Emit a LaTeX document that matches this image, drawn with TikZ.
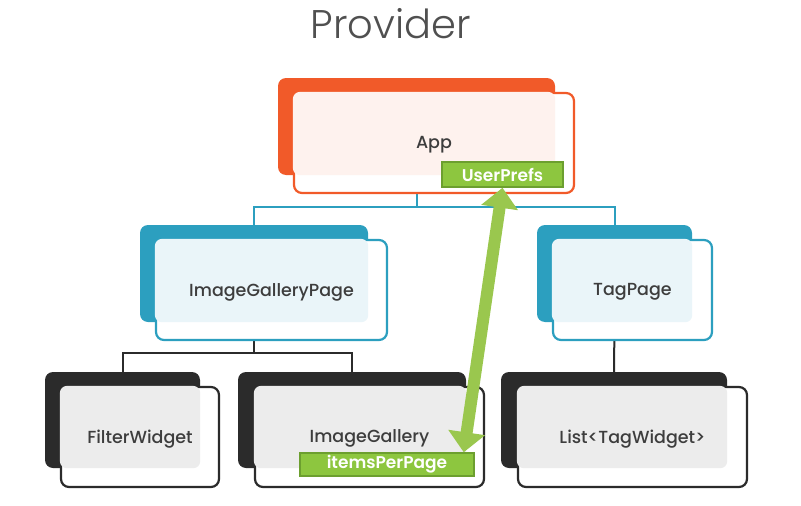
\documentclass[tikz,border=0pt]{standalone}
\usepackage{fontspec}
\setmainfont{Poppins Medium}
\newfontfamily\titlefont{Poppins Light}
\newfontfamily\tagfont{Poppins SemiBold}
\usetikzlibrary{arrows.meta,backgrounds}
\definecolor{appred}{HTML}{F15A29}
\definecolor{pageblue}{HTML}{2C9FBF}
\definecolor{widgetdark}{HTML}{2B2B2B}
\definecolor{sharegreen}{HTML}{9AC74E}
\definecolor{tagfill}{HTML}{8DC63F}
\definecolor{tagline}{HTML}{6C9F2F}
\definecolor{textgrey}{HTML}{3D3D3D}
\definecolor{titlegrey}{HTML}{505050}

\begin{document}
\begin{tikzpicture}[x=1pt,y=-1pt,
  back/.style={rounded corners=8pt,inner sep=0pt},
  front/.style={fill=white,line width=2.2pt,rounded corners=8pt,inner sep=0pt},
  boxtext/.style={text=textgrey,yshift=-2pt,font=\fontsize{17.5}{17.5}\selectfont},
  tag/.style={fill=tagfill,draw=tagline,line width=1.5pt,inner sep=0pt,text=white,font=\tagfont\fontsize{17}{17}\selectfont},
  link/.style={line width=2pt},
  share/.style={draw=sharegreen,line width=12pt,{Triangle[width=36pt,length=20pt]}-{Triangle[width=36pt,length=20pt]}}]
\useasboundingbox (0,0) rectangle (801,506);

\node[font=\titlefont\fontsize{40}{40}\selectfont,text=titlegrey] (title) at (391,24) {Provider};

% App
\node[back,fill=appred,minimum width=277,minimum height=97] (appback) at (416.5,126.5) {};
\node[front,draw=appred,minimum width=280,minimum height=100] (app) at (434,143) {};
\fill[appred!8,rounded corners=7pt] (app.north west) rectangle (appback.south east);
\node[boxtext] at (app) {App};
\node[tag,minimum width=121,minimum height=25] (prefs) at (502.5,174.5) {UserPrefs};

% ImageGalleryPage and TagPage
\node[back,fill=pageblue,minimum width=228,minimum height=97] (galpageback) at (254,273.5) {};
\node[front,draw=pageblue,minimum width=231,minimum height=100] (galpage) at (271.5,290) {};
\fill[pageblue!10,rounded corners=7pt] (galpage.north west) rectangle (galpageback.south east);
\node[boxtext] at (galpage) {ImageGalleryPage};

\node[back,fill=pageblue,minimum width=155,minimum height=97] (tagpageback) at (614.5,273.5) {};
\node[front,draw=pageblue,minimum width=159,minimum height=100] (tagpage) at (632.5,290) {};
\fill[pageblue!10,rounded corners=7pt] (tagpage.north west) rectangle (tagpageback.south east);
\node[boxtext] at (tagpage) {TagPage};

% widgets
\node[back,fill=widgetdark,minimum width=155,minimum height=96] (filterback) at (122.5,420) {};
\node[front,draw=widgetdark,minimum width=158,minimum height=100] (filter) at (140,437) {};
\fill[widgetdark!9,rounded corners=7pt] (filter.north west) rectangle (filterback.south east);
\node[boxtext] at (filter) {FilterWidget};

\node[back,fill=widgetdark,minimum width=228,minimum height=96] (galleryback) at (352,420) {};
\node[front,draw=widgetdark,minimum width=229,minimum height=100] (gallery) at (369.5,437) {};
\fill[widgetdark!9,rounded corners=7pt] (gallery.north west) rectangle (galleryback.south east);
\node[boxtext] at ([yshift=1pt]gallery) {ImageGallery};
\node[tag,minimum width=174,minimum height=23] (perpage) at (387,464.5) {itemsPerPage};

\node[back,fill=widgetdark,minimum width=226,minimum height=96] (tagsback) at (614,420) {};
\node[front,draw=widgetdark,minimum width=229,minimum height=100] (tags) at (632.5,437) {};
\fill[widgetdark!9,rounded corners=7pt] (tags.north west) rectangle (tagsback.south east);
\node[boxtext] at (tags) {List<TagWidget>};

% tree lines
\begin{scope}[on background layer]
\coordinate (appfork) at (416.5,207);
\coordinate (galfork) at (254,353);
\draw[link,pageblue] (appback.south) -- (appfork);
\draw[link,pageblue] (galpageback.north) |- (appfork) -| (tagpageback.north);
\draw[link,widgetdark] (galpageback.south) -- (galfork);
\draw[link,widgetdark] (filterback.north) |- (galfork) -| (galleryback.north);
\draw[link,widgetdark] (tagpageback.south) -- (tagsback.north);
\end{scope}

\draw[share] (prefs.south) -- ([xshift=-11pt]perpage.north east);
\end{tikzpicture}
\end{document}
